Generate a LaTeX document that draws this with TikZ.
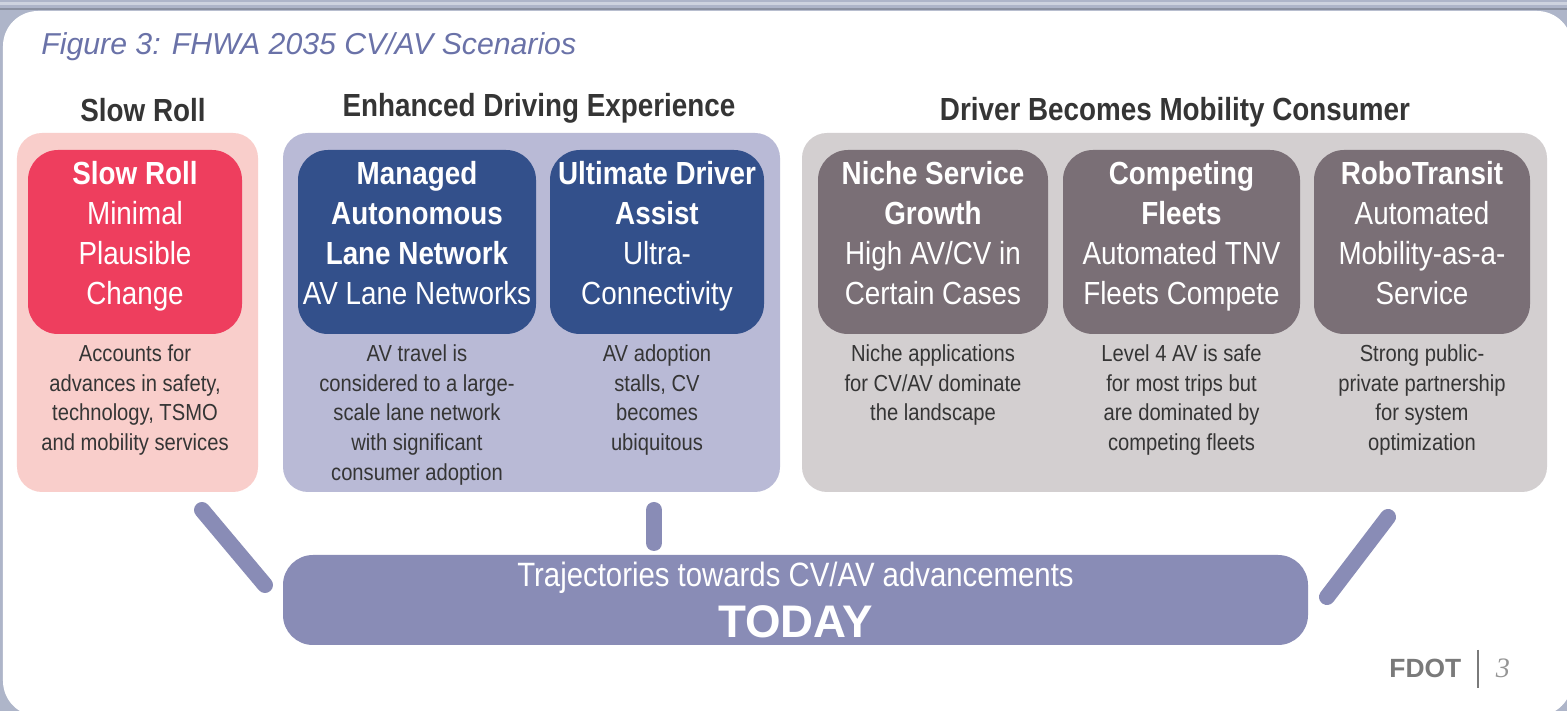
\documentclass[tikz,border=0pt]{standalone}
\usepackage{fontspec}
\setmainfont{Liberation Sans}[FakeStretch=0.87]
\newfontfamily\plainsans{Liberation Sans}
\newfontfamily\pageserif{Liberation Serif}
\usetikzlibrary{positioning}

\definecolor{frame}{HTML}{AEB5C9}
\definecolor{ink}{HTML}{353535}
\definecolor{captionblue}{HTML}{6A72A8}
\definecolor{pinkbg}{HTML}{F9CECB}
\definecolor{rose}{HTML}{EE3E5E}
\definecolor{lavbg}{HTML}{B9BAD6}
\definecolor{navy}{HTML}{33508B}
\definecolor{greybg}{HTML}{D3CFD0}
\definecolor{mauve}{HTML}{7A6F76}
\definecolor{trailblue}{HTML}{898CB6}
\definecolor{footgrey}{HTML}{7A7A7A}

\tikzset{
	panel/.style={rounded corners=0.25cm, minimum height=3.59cm, inner sep=0},
	scen/.style={rounded corners=0.3cm, minimum height=1.84cm, inner sep=0, text height=1.45cm, text depth=0.2cm, text=white, align=center, font=\fontsize{9.1}{11.4}\selectfont},
	blurb/.style={anchor=north, inner sep=0, align=center, text=ink, font=\fontsize{6.6}{8.5}\selectfont},
	head/.style={text=ink, font=\bfseries\fontsize{9.1}{11}\selectfont},
	trail/.style={line width=0.16cm, line cap=round, draw=trailblue},
}

\begin{document}
\begin{tikzpicture}
	% slide frame and white sheet
	\useasboundingbox (0,0) rectangle (15.67,-7.11);
	\clip (0,0) rectangle (15.67,-7.11);
	\fill[frame] (0,0) rectangle (15.67,-7.11);
	\fill[frame!60!white] (0,-0.02) rectangle (15.67,-0.05);
	\fill[frame!80!black] (0,-0.08) rectangle (15.67,-0.10);
	\fill[white, rounded corners=0.35cm] (0.03,-0.11) rectangle (15.72,-7.16);

	\node[anchor=west, text=captionblue, font=\plainsans\itshape\fontsize{8.6}{10}\selectfont] (caption) at (0.29,-0.47) {Figure 3: FHWA 2035 CV/AV Scenarios};

	% group headings
	\node[head] (hslow) at (1.43,-1.10) {Slow Roll};
	\node[head] (henh) at (5.39,-1.08) {Enhanced Driving Experience};
	\node[head] (hdrv) at (11.75,-1.12) {Driver Becomes Mobility Consumer};

	% group panels
	\node[panel, fill=pinkbg, minimum width=2.41cm] (pslow) at (1.375,-3.125) {};
	\node[panel, fill=lavbg, minimum width=4.97cm] (penh) at (5.315,-3.125) {};
	\node[panel, fill=greybg, minimum width=7.45cm] (pdrv) at (11.745,-3.125) {};

	% scenario boxes
	\node[scen, fill=rose, minimum width=2.14cm] (slow) at (1.35,-2.42) {\textbf{Slow Roll}\\Minimal\\Plausible\\Change};
	\node[scen, fill=navy, minimum width=2.38cm] (managed) at (4.17,-2.42) {\textbf{Managed}\\\textbf{Autonomous}\\\textbf{Lane Network}\\AV Lane Networks};
	\node[scen, fill=navy, minimum width=2.14cm] (ultimate) at (6.57,-2.42) {\textbf{Ultimate Driver}\\\textbf{Assist}\\Ultra-\\Connectivity};
	\node[scen, fill=mauve, minimum width=2.30cm] (niche) at (9.33,-2.42) {\textbf{Niche Service}\\\textbf{Growth}\\High AV/CV in\\Certain Cases};
	\node[scen, fill=mauve, minimum width=2.37cm] (fleets) at (11.815,-2.42) {\textbf{Competing}\\\textbf{Fleets}\\Automated TNV\\Fleets Compete};
	\node[scen, fill=mauve, minimum width=2.16cm] (robo) at (14.22,-2.42) {\textbf{RoboTransit}\\Automated\\Mobility-as-a-\\Service};

	% short descriptions
	\node[blurb] (slowtxt) at ([yshift=-0.09cm]slow.south) {Accounts for\\advances in safety,\\technology, TSMO\\and mobility services};
	\node[blurb] (managedtxt) at ([yshift=-0.09cm]managed.south) {AV travel is\\considered to a large-\\scale lane network\\with significant\\consumer adoption};
	\node[blurb] (ultimatetxt) at ([yshift=-0.09cm]ultimate.south) {AV adoption\\stalls, CV\\becomes\\ubiquitous};
	\node[blurb] (nichetxt) at ([yshift=-0.09cm]niche.south) {Niche applications\\for CV/AV dominate\\the landscape};
	\node[blurb] (fleetstxt) at ([yshift=-0.09cm]fleets.south) {Level 4 AV is safe\\for most trips but\\are dominated by\\competing fleets};
	\node[blurb] (robotxt) at ([yshift=-0.09cm]robo.south) {Strong public-\\private partnership\\for system\\optimization};

	% today bar and the three trajectories
	\node[fill=trailblue, rounded corners=0.3cm, minimum width=10.25cm, minimum height=0.90cm, inner sep=0, text=white, align=center, font=\fontsize{9.6}{11}\selectfont] (today) at (7.955,-6.00) {Trajectories towards CV/AV advancements\\[0.09cm]{\plainsans\bfseries\fontsize{13}{14}\selectfont TODAY}};

	\coordinate (ltop) at (2.02,-5.10);
	\coordinate (lbot) at (2.65,-5.85);
	\coordinate (mtop) at (6.54,-5.10);
	\coordinate (mbot) at (6.54,-5.43);
	\coordinate (rtop) at (13.88,-5.17);
	\coordinate (rbot) at (13.27,-5.97);
	\draw[trail] (ltop) -- (lbot);
	\draw[trail] (mtop) -- (mbot);
	\draw[trail] (rtop) -- (rbot);

	% footer
	\node[anchor=west, text=footgrey, font=\plainsans\bfseries\fontsize{7.5}{9}\selectfont] (fdot) at (13.77,-6.68) {FDOT};
	\coordinate (bartop) at (14.78,-6.50);
	\coordinate (barbot) at (14.78,-6.88);
	\draw[footgrey, line width=0.02cm] (bartop) -- (barbot);
	\node[text=footgrey!80, font=\pageserif\itshape\fontsize{8}{9}\selectfont] (pageno) at (15.03,-6.68) {3};
\end{tikzpicture}
\end{document}
